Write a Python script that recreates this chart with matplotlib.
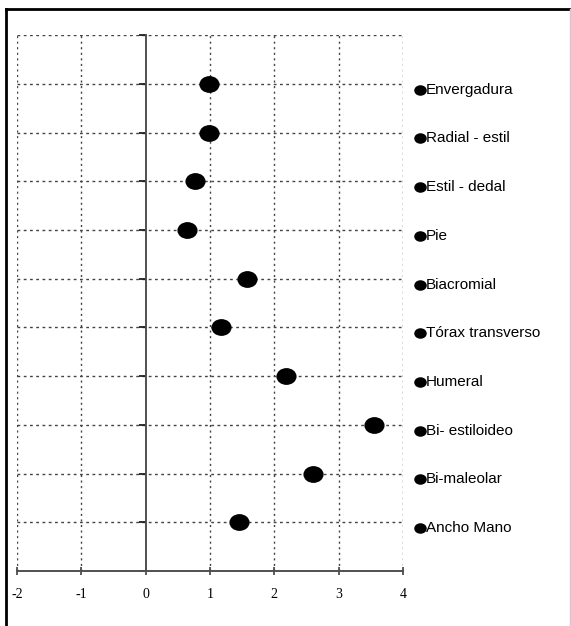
import matplotlib
matplotlib.use('Agg')
import matplotlib.pyplot as plt
from matplotlib.path import Path
from matplotlib.transforms import Affine2D
from matplotlib.lines import Line2D

# data, top to bottom as in the picture
labels = ['Envergadura', 'Radial - estil', 'Estil - dedal', 'Pie', 'Biacromial',
          'Tórax transverso', 'Humeral', 'Bi- estiloideo', 'Bi-maleolar', 'Ancho Mano']
values = [0.98, 0.98, 0.76, 0.64, 1.57, 1.17, 2.18, 3.55, 2.60, 1.45]
x_ticks = [-2, -1, 0, 1, 2, 3, 4]

# elliptic marker (a bit wider than tall)
ellipse = Path.unit_circle().transformed(Affine2D().scale(1.22, 1.0))

fig = plt.figure(figsize=(5.71, 6.26), dpi=100)
ax = fig.add_axes([0.0298, 0.0879, 0.676, 0.856])

n = len(labels)
ypos = list(range(n, 0, -1))

ax.set_xlim(-2, 4)
ax.set_ylim(0, n + 1)

# dotted grid
grid_col = '#444444'
for xv in x_ticks:
    if xv != 0:
        ax.axvline(xv, color=grid_col, lw=1, ls=(0, (1.5, 2.5)), zorder=1)
for yv in range(1, n + 2):
    ax.axhline(yv, color=grid_col, lw=1, ls=(0, (2, 2.5)), zorder=1)

ax.plot(values, ypos, ls='none', marker=ellipse, markersize=13.5,
        color='black', zorder=3)

# right hand labels with small markers
for lab, y in zip(labels, ypos):
    ax.plot([4.27], [y - 0.12], ls='none', marker=ellipse, markersize=8,
            color='black', clip_on=False)
    ax.text(4.355, y - 0.12, lab, ha='left', va='center', fontsize=11,
            family='Liberation Sans', color='black')

# spines
for s in ['top', 'right']:
    ax.spines[s].set_visible(False)
ax.spines['left'].set_position(('data', 0))
ax.spines['left'].set_color('#505050')
ax.spines['left'].set_linewidth(1.4)
ax.spines['left'].set_zorder(2)
ax.spines['bottom'].set_color('#505050')
ax.spines['bottom'].set_linewidth(1.4)

ax.set_yticks(range(0, n + 2))
ax.set_yticklabels([])
ax.tick_params(axis='y', direction='out', length=5, width=1.3, color='#202020')

ax.set_xticks(x_ticks)
ax.set_xticklabels([str(t) for t in x_ticks], family='Liberation Serif',
                   fontsize=10)
ax.tick_params(axis='x', direction='inout', length=6, width=1.2,
               color='#404040', pad=9)

# figure border
fig.add_artist(Line2D([0.011, 0.011], [0.0, 0.986], color='black', lw=2,
                      transform=fig.transFigure))
fig.add_artist(Line2D([0.011, 0.998], [0.986, 0.986], color='black', lw=2,
                      transform=fig.transFigure))
fig.add_artist(Line2D([0.998, 0.998], [0.0, 0.986], color='#cccccc', lw=1,
                      transform=fig.transFigure))

fig.savefig('out.png', dpi=100)
